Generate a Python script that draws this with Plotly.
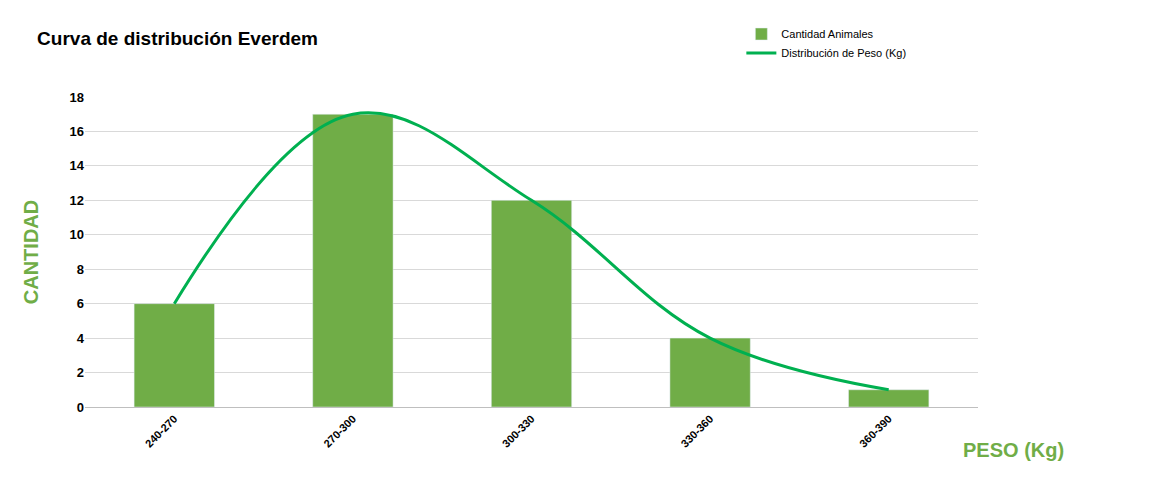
import plotly.graph_objects as go

categorias = ["240-270", "270-300", "300-330", "330-360", "360-390"]
cantidad = [6, 17, 12, 4, 1]

fig = go.Figure()
fig.add_bar(x=categorias, y=cantidad, name="Cantidad Animales", marker_color="#70AD47",
            width=0.45, legendgroup="a")
fig.add_scatter(x=categorias, y=cantidad, name="Distribución de Peso (Kg)", mode="lines",
                line=dict(color="#00B050", width=3, shape="spline", smoothing=1.1), legendgroup="b")

fig.update_layout(
    width=1164, height=498, paper_bgcolor="white", plot_bgcolor="white",
    margin=dict(l=77, r=194, t=74, b=99),
    font=dict(family="Liberation Sans, Arial", color="#000"),
    title=dict(text="<b>Curva de distribución Everdem</b>", x=0.025, xanchor="left", y=0.94, yanchor="middle",
               font=dict(size=19, family="Liberation Sans, Arial")),
    legend=dict(x=0.735, y=1.25, xanchor="left", yanchor="top", bgcolor="rgba(0,0,0,0)",
                font=dict(size=11), tracegroupgap=18, traceorder="normal"),
    bargap=0.55,
)
fig.update_yaxes(range=[0, 18], dtick=2, gridcolor="#D9D9D9", zeroline=False,
                 tickvals=list(range(0, 19, 2)), ticktext=["<b>%d</b>" % v for v in range(0, 19, 2)],
                 tickfont=dict(size=13), automargin=False,
                 title=dict(text="<b>CANTIDAD</b>", font=dict(size=20, color="#70AD47"), standoff=25))
fig.update_xaxes(showline=True, linecolor="#BFBFBF", tickangle=-45, automargin=False,
                 tickfont=dict(size=11))
fig.add_annotation(text="<b>PESO (Kg)</b>", xref="paper", yref="paper", x=1.04, y=-0.14,
                   xanchor="center", yanchor="middle", showarrow=False,
                   font=dict(size=20, color="#70AD47"))
fig.update_xaxes(tickvals=categorias, ticktext=["<b>%s</b>" % c for c in categorias])
fig.write_html("out.html")
